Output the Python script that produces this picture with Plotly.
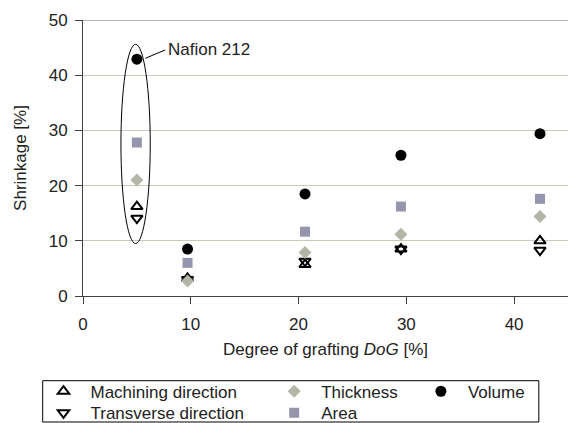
import plotly.graph_objects as go

# Degree of grafting (DoG) of each membrane [%]; the first entry is Nafion 212
dog = [5.0, 9.7, 20.6, 29.5, 42.4]

# Shrinkage values [%]
machining = [16.2, 3.2, 5.7, 8.5, 10.0]
transverse = [14.1, 3.0, 6.3, 8.5, 8.3]
thickness = [21.0, 2.7, 7.9, 11.2, 14.4]
area = [27.8, 6.0, 11.65, 16.2, 17.6]
volume = [42.9, 8.5, 18.5, 25.5, 29.4]

x_ticks = [0, 10, 20, 30, 40]
y_ticks = [0, 10, 20, 30, 40, 50]

FONT = "Liberation Sans, Arial, sans-serif"
TXT = "#222222"
GRID = "#c9c9bc"
AXIS = "#404040"

W, H = 568, 423
ML, MR, MT, MB = 83, 0, 20, 127
PW, PH = W - ML - MR, H - MT - MB


def px_x(p):
    return (p - ML) / PW


def px_y(p):
    return (H - MB - p) / PH


fig = go.Figure()

# name, values, symbol, colour, size, legend id, legend left [px], row centre [px]
series = [
    ("Machining direction", machining, "triangle-up-open", "#000000", 10, "legend", 36.5, 391.7),
    ("Transverse direction", transverse, "triangle-down-open", "#000000", 10, "legend4", 36.5, 413.3),
    ("Thickness", thickness, "diamond", "#b3b6a6", 10, "legend2", 267.2, 391.7),
    ("Area", area, "square", "#9595ad", 10, "legend5", 267.2, 413.3),
    ("Volume", volume, "circle", "#000000", 11, "legend3", 413.9, 391.7),
]

legends = {}
for name, vals, sym, col, size, leg, lx, ly in series:
    fig.add_trace(go.Scatter(
        x=dog, y=vals, mode="markers", name=name,
        marker=dict(symbol=sym, color=col, size=size,
                    line=dict(width=2 if "open" in sym else 0, color=col)),
        legend=leg,
    ))
    legends[leg] = dict(
        x=px_x(lx), y=px_y(ly), xanchor="left", yanchor="middle",
        font=dict(family=FONT, size=17, color=TXT),
        bgcolor="rgba(0,0,0,0)", borderwidth=0, orientation="v",
        itemwidth=44,
    )

# Ellipse marking the Nafion 212 reference membrane
fig.add_shape(type="circle", xref="x", yref="y",
              x0=3.52, x1=6.24, y0=9.5, y1=45.6,
              line=dict(color="#000000", width=1))

# Leader line and label for Nafion 212
fig.add_shape(type="line", xref="x", yref="y",
              x0=5.78, y0=43.06, x1=7.63, y1=44.57,
              line=dict(color="#000000", width=1))
fig.add_annotation(x=7.7, y=44.7, xref="x", yref="y", text="Nafion 212",
                   showarrow=False, xanchor="left", yanchor="middle",
                   font=dict(family=FONT, size=17, color=TXT))

# Darker top boundary at 50 %
fig.add_shape(type="line", xref="paper", yref="y", x0=0, x1=1, y0=50, y1=50,
              line=dict(color="#707070", width=1))

# Legend frame
fig.add_shape(type="rect", xref="paper", yref="paper",
              x0=px_x(42.7), x1=px_x(538.8), y0=px_y(422), y1=px_y(380.7),
              line=dict(color="#000000", width=1))

fig.update_layout(
    width=W, height=H,
    margin=dict(l=ML, r=MR, t=MT, b=MB, autoexpand=False),
    paper_bgcolor="#ffffff", plot_bgcolor="#ffffff",
    font=dict(family=FONT, size=17, color=TXT),
    xaxis=dict(range=[0, 45], tickvals=x_ticks, ticks="outside", ticklen=7,
               tickcolor=AXIS, showline=True, linecolor=AXIS, linewidth=1,
               showgrid=False, zeroline=False, ticklabelstandoff=6,
               title=dict(text="Degree of grafting <i>DoG</i> [%]", standoff=9,
                          font=dict(family=FONT, size=17, color=TXT))),
    yaxis=dict(range=[0, 50], tickvals=y_ticks, ticks="outside", ticklen=7,
               tickcolor=AXIS, showline=True, linecolor=AXIS, linewidth=1,
               showgrid=True, gridcolor=GRID, gridwidth=1, zeroline=False,
               ticklabelstandoff=4,
               title=dict(text="Shrinkage [%]", standoff=17,
                          font=dict(family=FONT, size=17, color=TXT))),
    showlegend=True,
    **legends,
)

fig.write_html("out.html")
